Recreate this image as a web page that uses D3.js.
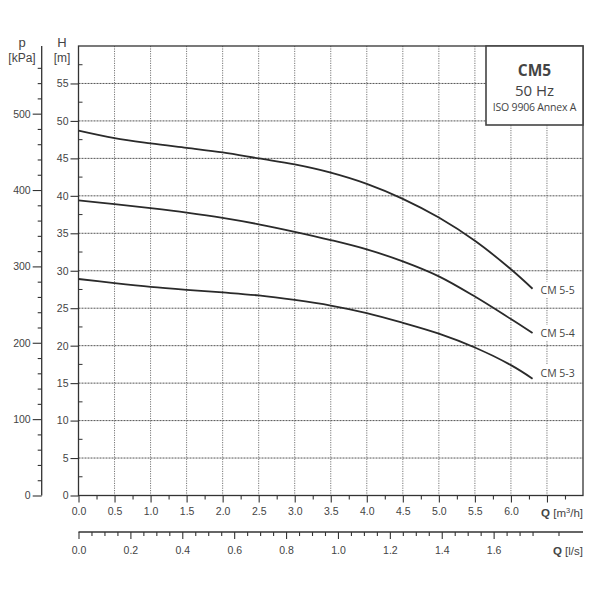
<!DOCTYPE html>
<html>
<head>
<meta charset="utf-8">
<script src="https://cdn.jsdelivr.net/npm/d3@7"></script>
<style>
html,body{margin:0;padding:0;background:#fff;}
svg{display:block;}
</style>
</head>
<body>
<svg id="chart" width="600" height="600"></svg>
<script>
// ---- data ----
const flowQ = [0, 0.5, 1.0, 1.5, 2.0, 2.5, 3.0, 3.5, 4.0, 4.5, 5.0, 5.5, 6.0, 6.3];
const headCM55 = [48.7, 47.7, 47.0, 46.4, 45.8, 45.0, 44.2, 43.1, 41.6, 39.6, 37.1, 34.0, 30.2, 27.6];
const headCM54 = [39.4, 38.9, 38.35, 37.75, 37.05, 36.2, 35.2, 34.1, 32.85, 31.25, 29.25, 26.55, 23.55, 21.7];
const headCM53 = [28.9, 28.35, 27.85, 27.45, 27.1, 26.7, 26.1, 25.35, 24.35, 23.05, 21.6, 19.75, 17.4, 15.6];
const seriesNames = ["CM 5-5", "CM 5-4", "CM 5-3"];
const hTicks = [0, 5, 10, 15, 20, 25, 30, 35, 40, 45, 50, 55];
const pTicks = [0, 100, 200, 300, 400, 500];
const qTicks = [0, 0.5, 1.0, 1.5, 2.0, 2.5, 3.0, 3.5, 4.0, 4.5, 5.0, 5.5, 6.0];
const lsTicks = [0, 0.2, 0.4, 0.6, 0.8, 1.0, 1.2, 1.4, 1.6];
const legendLines = ["CM5", "50 Hz", "ISO 9906 Annex A"];

// ---- layout ----
const svg = d3.select("#chart");
const X0 = 78.5, X1 = 583, Y0 = 495.5, Y1 = 46;
const x = d3.scaleLinear().domain([0, 7]).range([X0, X1]);
const y = d3.scaleLinear().domain([0, 60]).range([Y0, Y1]);
const p = d3.scaleLinear().domain([0, 60 * 9.81]).range([Y0, Y1]);
const xl = d3.scaleLinear().domain([0, 7 / 3.6]).range([X0, X1]);

const ink = "#333";
const tickFont = "'Liberation Sans', Arial, sans-serif";
const humFont = "'Open Sans', 'Noto Sans', sans-serif";

// grid
const gridG = svg.append("g");
d3.range(0, 7, 0.5).slice(1).forEach(v => {
  gridG.append("line").attr("x1", x(v)).attr("x2", x(v)).attr("y1", Y1).attr("y2", Y0)
    .attr("stroke", "#777").attr("stroke-width", 1).attr("stroke-dasharray", "1.2,1.2");
});
d3.range(5, 60, 5).forEach(v => {
  gridG.append("line").attr("x1", X0).attr("x2", X1).attr("y1", y(v)).attr("y2", y(v))
    .attr("stroke", "#555").attr("stroke-width", 1).attr("stroke-dasharray", "2,1");
});

// frame
svg.append("rect").attr("x", X0).attr("y", Y1).attr("width", X1 - X0).attr("height", Y0 - Y1)
  .attr("fill", "none").attr("stroke", ink).attr("stroke-width", 1.3);

// H axis
const hAxis = d3.axisLeft(y).tickValues(hTicks).tickSize(8).tickPadding(2).tickFormat(d3.format("d"));
const hG = svg.append("g").attr("transform", `translate(${X0},0)`).call(hAxis);
hG.select(".domain").remove();
d3.range(2.5, 60, 5).forEach(v => {
  svg.append("line").attr("x1", X0).attr("x2", X0 + 4).attr("y1", y(v)).attr("y2", y(v))
    .attr("stroke", ink).attr("stroke-width", 1);
});

// p axis
const pAxis = d3.axisLeft(p).tickValues(pTicks).tickSize(9).tickPadding(2).tickFormat(d3.format("d"));
const pG = svg.append("g").attr("transform", "translate(41.7,0)").call(pAxis);
pG.select(".domain").attr("d", `M0,${Y0}V${Y1}`);
const pMinor = d3.axisLeft(p).tickValues(d3.range(20, 580, 20).filter(v => v % 100 !== 0)).tickSize(4).tickFormat("");
const pmG = svg.append("g").attr("transform", "translate(41.7,0)").call(pMinor);
pmG.select(".domain").remove();

// Q m3/h axis
const qAxis = d3.axisBottom(x).tickValues(qTicks.concat([6.5])).tickSize(7).tickPadding(5)
  .tickFormat(d => d <= 6 ? d3.format(".1f")(d) : "");
const qG = svg.append("g").attr("transform", `translate(0,${Y0})`).call(qAxis);
qG.select(".domain").remove();
const qMinor = d3.axisBottom(x).tickValues(d3.range(0.25, 7, 0.5)).tickSize(4).tickFormat("");
const qmG = svg.append("g").attr("transform", `translate(0,${Y0})`).call(qMinor);
qmG.select(".domain").remove();

// Q l/s axis
const LY = 532;
const lAxis = d3.axisBottom(xl).tickValues(lsTicks).tickSize(7).tickPadding(8).tickFormat(d3.format(".1f"));
const lG = svg.append("g").attr("transform", `translate(0,${LY})`).call(lAxis);
lG.select(".domain").attr("d", `M${X0},0H${X1}`);
const lMinor = d3.axisBottom(xl).tickValues(d3.range(0.05, 1.9, 0.05).filter(v => Math.abs(v * 5 - Math.round(v * 5)) > 1e-6)).tickSize(4).tickFormat("");
const lmG = svg.append("g").attr("transform", `translate(0,${LY})`).call(lMinor);
lmG.select(".domain").remove();

// style axes
svg.selectAll(".tick line").attr("stroke", ink).attr("stroke-width", 1.1);
svg.selectAll(".domain").attr("stroke", ink).attr("stroke-width", 1.3);
svg.selectAll(".tick text").attr("font-family", tickFont).attr("font-size", 10.5).attr("fill", "#444");

// axis titles
const t = (xx, yy, s, anchor, size, weight, fam) => svg.append("text").attr("x", xx).attr("y", yy)
  .attr("text-anchor", anchor).attr("font-family", fam || tickFont).attr("font-size", size)
  .attr("font-weight", weight || "normal").attr("fill", "#444").text(s);
t(22, 47, "p", "middle", 13);
t(22, 62, "[kPa]", "middle", 12);
t(62, 47, "H", "middle", 13);
t(62, 62, "[m]", "middle", 12);
const qLab = svg.append("text").attr("x", X1).attr("y", 517).attr("text-anchor", "end")
  .attr("font-family", tickFont).attr("font-size", 11.5).attr("fill", "#444");
qLab.append("tspan").attr("font-weight", "bold").text("Q ");
qLab.append("tspan").text("[m");
qLab.append("tspan").attr("font-size", 7.5).attr("dy", -4).text("3");
qLab.append("tspan").attr("dy", 4).text("/h]");
const lLab = svg.append("text").attr("x", X1).attr("y", 555).attr("text-anchor", "end")
  .attr("font-family", tickFont).attr("font-size", 11.5).attr("fill", "#444");
lLab.append("tspan").attr("font-weight", "bold").text("Q ");
lLab.append("tspan").text("[l/s]");

// curves
const allHeads = [headCM55, headCM54, headCM53];
const labelDy = [5, 4, -2];
const line = d3.line().x(d => x(d[0])).y(d => y(d[1])).curve(d3.curveCatmullRom.alpha(0.5));
const bgG = svg.append("g");
const curveG = svg.append("g");
const labG = svg.append("g");
allHeads.forEach((h, i) => {
  const pts = flowQ.map((q, j) => [q, h[j]]);
  curveG.append("path").attr("d", line(pts)).attr("fill", "none").attr("stroke", "#2a2a2a").attr("stroke-width", 1.8);
  const last = pts[pts.length - 1];
  const lx = x(last[0]) + 8, ly = y(last[1]) + labelDy[i];
  const txt = labG.append("text").attr("x", lx).attr("y", ly).attr("font-family", humFont)
    .attr("font-size", 10.5).attr("fill", "#444").text(seriesNames[i]);
  const bb = txt.node().getBBox();
  bgG.append("rect").attr("x", bb.x - 1).attr("y", bb.y - 1)
    .attr("width", bb.width + 2).attr("height", bb.height + 2).attr("fill", "#fff");
});

// legend box
const LX0 = 486, LY0 = Y1, LW = X1 - 486, LH = 79;
svg.append("rect").attr("x", LX0).attr("y", LY0).attr("width", LW).attr("height", LH)
  .attr("fill", "#fff").attr("stroke", "#444").attr("stroke-width", 1.6);
const lcx = LX0 + LW / 2;
t(lcx, 76, legendLines[0], "middle", 15.5, "bold", humFont);
t(lcx, 96, legendLines[1], "middle", 15, "normal", humFont);
t(lcx, 111, legendLines[2], "middle", 10.5, "normal", humFont).attr("letter-spacing", -0.2);
</script>
</body>
</html>
